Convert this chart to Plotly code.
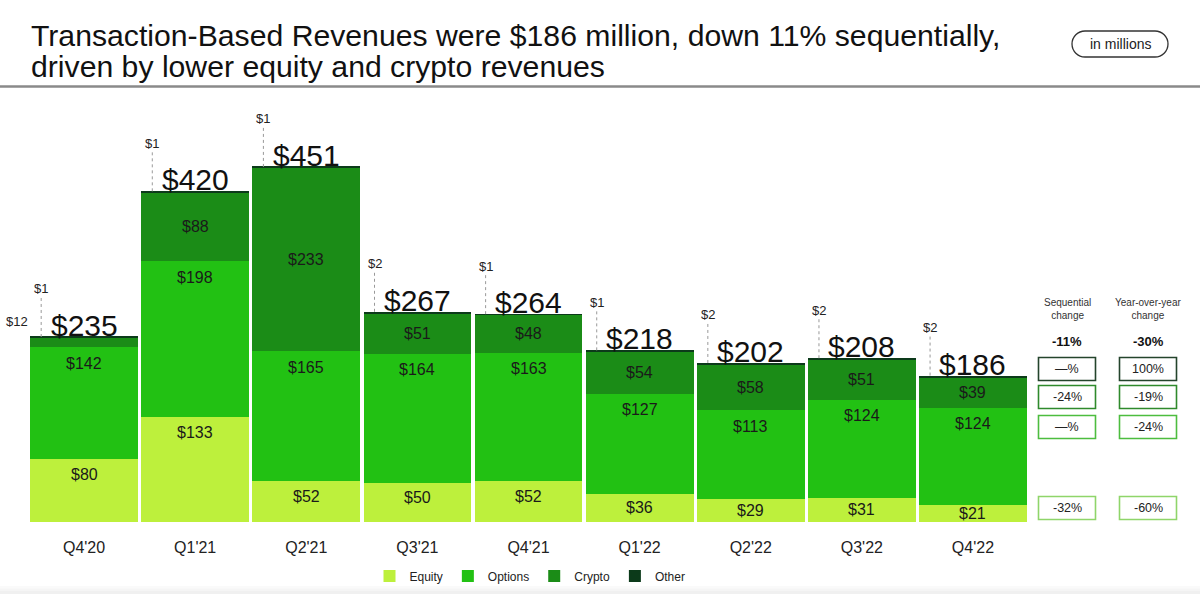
import plotly.graph_objects as go

QUARTERS = ["Q4'20", "Q1'21", "Q2'21", "Q3'21", "Q4'21", "Q1'22", "Q2'22", "Q3'22", "Q4'22"]
EQUITY = [80, 133, 52, 50, 52, 36, 29, 31, 21]
OPTIONS = [142, 198, 165, 164, 163, 127, 113, 124, 124]
CRYPTO = [12, 88, 233, 51, 48, 54, 58, 51, 39]
OTHER = [1, 1, 1, 2, 1, 1, 2, 2, 2]
TOTALS = [235, 420, 451, 267, 264, 218, 202, 208, 186]

TABLE_ROWS = ["Other", "Crypto", "Options", "Equity"]
SEQ_CHANGE = ["\u2014%", "-24%", "\u2014%", "-32%"]
YOY_CHANGE = ["100%", "-19%", "-24%", "-60%"]
SEQ_TOTAL = "-11%"
YOY_TOTAL = "-30%"

TITLE_1 = "Transaction-Based Revenues were $186 million, down 11% sequentially,"
TITLE_2 = "driven by lower equity and crypto revenues"

C_EQ = "#BDF03C"
C_OP = "#22C113"
C_CR = "#1B8C17"
C_OT = "#0C3A1A"
FONT = "Liberation Sans, Arial, Helvetica, sans-serif"

W, H = 1200, 594
YMAX = 536

def px(x):
    return x / W

def py(y):
    return 1 - y / H

fig = go.Figure()
xs = list(range(len(QUARTERS)))
for name, vals, col in [("Equity", EQUITY, C_EQ), ("Options", OPTIONS, C_OP),
                        ("Crypto", CRYPTO, C_CR), ("Other", OTHER, C_OT)]:
    fig.add_trace(go.Bar(x=xs, y=vals, name=name, marker=dict(color=col, line=dict(width=0)),
                         hoverinfo="skip"))

ann = []
shapes = []
unit_px = 422 / YMAX
for i in xs:
    eq_top = EQUITY[i]
    op_top = eq_top + OPTIONS[i]
    # equity label
    y_eq = max(eq_top - 15 / unit_px, eq_top / 2)
    ann.append(dict(x=i, y=y_eq, text=f"${EQUITY[i]}", showarrow=False, xanchor="center",
                    font=dict(size=16, color="#1a1a1a", family=FONT), yanchor="middle"))
    y_op = max(op_top - 16 / unit_px, eq_top + OPTIONS[i] / 2)
    ann.append(dict(x=i, y=y_op, text=f"${OPTIONS[i]}", showarrow=False, xanchor="center",
                    font=dict(size=16, color="#1a1a1a", family=FONT), yanchor="middle"))
    cr_mid = op_top + CRYPTO[i] / 2
    if CRYPTO[i] * unit_px >= 16:
        ann.append(dict(x=i, y=cr_mid, text=f"${CRYPTO[i]}", showarrow=False, xanchor="center",
                        font=dict(size=16, color="#1a1a1a", family=FONT), yanchor="middle"))
    else:
        ann.append(dict(x=i - 0.485, y=cr_mid, xshift=-13, yshift=21, text=f"${CRYPTO[i]}",
                        xanchor="center", showarrow=False,
                        font=dict(size=13, color="#222", family=FONT)))
        shapes.append(dict(type="path", xref="x", yref="y", xsizemode="pixel", ysizemode="pixel",
                           xanchor=i - 0.485, yanchor=cr_mid,
                           path="M -12,14 L -12,0 L -2,0",
                           line=dict(color="#999", width=1, dash="dot")))
    # total label
    ann.append(dict(x=i, y=TOTALS[i], text=f"${TOTALS[i]}", showarrow=False, yanchor="bottom",
                    xanchor="center", yshift=-7, font=dict(size=30, color="#111", family=FONT)))
    # other label with dotted leader
    lx = i - 0.485 + 11 / 111
    ann.append(dict(x=lx, y=TOTALS[i], yshift=48, text=f"${OTHER[i]}", showarrow=False,
                    xanchor="center", yanchor="middle", font=dict(size=13, color="#222", family=FONT)))
    shapes.append(dict(type="line", xref="x", yref="y", ysizemode="pixel", yanchor=TOTALS[i],
                       x0=lx, x1=lx, y0=0, y1=40,
                       line=dict(color="#999", width=1, dash="dot")))

# Title
ann.append(dict(xref="paper", yref="paper", x=px(29), y=py(35), xanchor="left", yanchor="middle",
                text=TITLE_1, showarrow=False, font=dict(size=30.2, color="#111", family=FONT)))
ann.append(dict(xref="paper", yref="paper", x=px(29), y=py(66), xanchor="left", yanchor="middle",
                text=TITLE_2, showarrow=False, font=dict(size=30.2, color="#111", family=FONT)))

# rule
shapes.append(dict(type="line", xref="paper", yref="paper", x0=0, x1=1, y0=py(86.5), y1=py(86.5),
                   line=dict(color="#8a8a8a", width=2.5)))

# pill "in millions"
cx, cy, pw, ph = 1120, 44, 96, 26
r = ph / 2
x0, x1, y0, y1 = cx - pw / 2, cx + pw / 2, cy - ph / 2, cy + ph / 2
k = 0.55
path = (f"M {px(x0 + r)},{py(y0)} L {px(x1 - r)},{py(y0)} "
        f"C {px(x1 - r + r * k)},{py(y0)} {px(x1)},{py(cy - r * k)} {px(x1)},{py(cy)} "
        f"C {px(x1)},{py(cy + r * k)} {px(x1 - r + r * k)},{py(y1)} {px(x1 - r)},{py(y1)} "
        f"L {px(x0 + r)},{py(y1)} "
        f"C {px(x0 + r - r * k)},{py(y1)} {px(x0)},{py(cy + r * k)} {px(x0)},{py(cy)} "
        f"C {px(x0)},{py(cy - r * k)} {px(x0 + r - r * k)},{py(y0)} {px(x0 + r)},{py(y0)} Z")
shapes.append(dict(type="path", xref="paper", yref="paper", path=path,
                   line=dict(color="#333", width=1.3)))
ann.append(dict(xref="paper", yref="paper", x=px(cx), y=py(cy), text="in millions", showarrow=False,
                xanchor="center", yanchor="middle", font=dict(size=14, color="#222", family=FONT)))

# Right table
col_x = [1067, 1148]
for c, t in zip(col_x, ["Sequential<br>change", "Year-over-year<br>change"]):
    ann.append(dict(xref="paper", yref="paper", x=px(c), y=py(309), text=t, xanchor="center",
                    yanchor="middle", showarrow=False, font=dict(size=10, color="#333", family=FONT)))
for c, t in zip(col_x, [SEQ_TOTAL, YOY_TOTAL]):
    ann.append(dict(xref="paper", yref="paper", x=px(c), y=py(341), text=f"<b>{t}</b>",
                    xanchor="center", yanchor="middle", showarrow=False,
                    font=dict(size=13, color="#111", family=FONT)))
row_y = [369, 397, 427, 508]
row_col = ["#24442c", "#2f8a2c", "#4dbd3f", "#8fd56a"]
for k2, name in enumerate(TABLE_ROWS):
    for c, txt in zip(col_x, [SEQ_CHANGE[k2], YOY_CHANGE[k2]]):
        shapes.append(dict(type="rect", xref="paper", yref="paper",
                           x0=px(c - 28.5), x1=px(c + 28.5), y0=py(row_y[k2] - 11.5), y1=py(row_y[k2] + 11.5),
                           line=dict(color=row_col[k2], width=1.6), fillcolor="white"))
        ann.append(dict(xref="paper", yref="paper", x=px(c), y=py(row_y[k2]), text=txt, showarrow=False,
                        xanchor="center", yanchor="middle",
                        font=dict(size=12.5, color="#222", family=FONT)))

# bottom subtle shade
for j, g in enumerate(["#fafafa", "#f5f5f5", "#f0f0f0"]):
    shapes.append(dict(type="rect", xref="paper", yref="paper", x0=0, x1=1,
                       y0=0, y1=py(586 + j * 2.5), fillcolor=g, line=dict(width=0), layer="below"))

fig.update_layout(
    width=W, height=H, autosize=False,
    margin=dict(l=0, r=0, t=0, b=0, pad=0),
    paper_bgcolor="white", plot_bgcolor="white",
    barmode="stack", bargap=0.03,
    font=dict(family=FONT, color="#222"),
    xaxis=dict(domain=[px(28.5), px(1028.5)], range=[-0.5, len(QUARTERS) - 0.5],
               tickvals=xs, ticktext=QUARTERS, showgrid=False, zeroline=False, showline=False,
               ticks="outside", ticklen=11, tickcolor="rgba(0,0,0,0)",
               tickfont=dict(size=16, color="#222", family=FONT)),
    yaxis=dict(domain=[py(522), py(100)], range=[0, YMAX], visible=False),
    legend=dict(orientation="h", x=px(530), xanchor="center", y=py(576), yanchor="middle",
                font=dict(size=12, color="#222", family=FONT), traceorder="normal",
                itemclick=False, bgcolor="rgba(0,0,0,0)"),
    annotations=ann, shapes=shapes, showlegend=True,
)

fig.write_html("out.html", config={"displayModeBar": False},
               post_script="document.body.style.margin='0';document.body.style.overflow='hidden';")
